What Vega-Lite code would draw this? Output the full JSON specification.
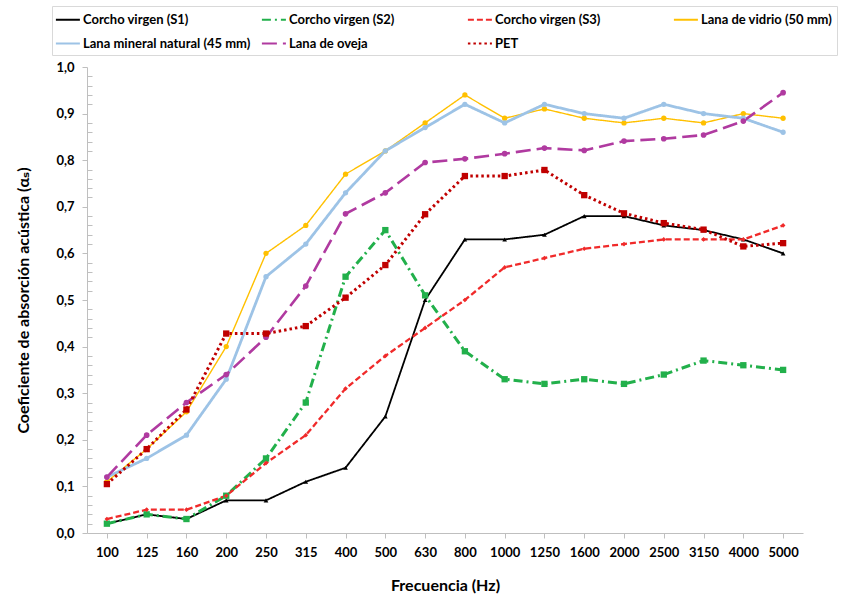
{
  "$schema": "https://vega.github.io/schema/vega-lite/v6.json",
  "width": 716,
  "height": 466,
  "autosize": {"type": "none"},
  "padding": {"left": 87, "top": 67, "right": 52, "bottom": 61},
  "background": "white",
  "config": {
    "view": {"stroke": null},
    "font": "Lato",
    "axis": {
      "labelFont": "Lato",
      "labelFontWeight": "bold",
      "labelFontSize": 13,
      "labelColor": "#000000",
      "titleFont": "Lato, DejaVu Sans",
      "titleFontWeight": "bold",
      "titleFontSize": 16,
      "titleColor": "#000000",
      "domainColor": "#bfbfbf",
      "tickColor": "#bfbfbf",
      "grid": false
    },
    "legend": {
      "labelFont": "Lato",
      "labelFontWeight": "bold",
      "labelFontSize": 13,
      "labelColor": "#000000",
      "labelLimit": 300
    }
  },
  "data": {
    "values": [
      {"f": "100", "s": "Corcho virgen (S1)", "v": 0.02},
      {"f": "125", "s": "Corcho virgen (S1)", "v": 0.04},
      {"f": "160", "s": "Corcho virgen (S1)", "v": 0.03},
      {"f": "200", "s": "Corcho virgen (S1)", "v": 0.07},
      {"f": "250", "s": "Corcho virgen (S1)", "v": 0.07},
      {"f": "315", "s": "Corcho virgen (S1)", "v": 0.11},
      {"f": "400", "s": "Corcho virgen (S1)", "v": 0.14},
      {"f": "500", "s": "Corcho virgen (S1)", "v": 0.25},
      {"f": "630", "s": "Corcho virgen (S1)", "v": 0.50},
      {"f": "800", "s": "Corcho virgen (S1)", "v": 0.63},
      {"f": "1000", "s": "Corcho virgen (S1)", "v": 0.63},
      {"f": "1250", "s": "Corcho virgen (S1)", "v": 0.64},
      {"f": "1600", "s": "Corcho virgen (S1)", "v": 0.68},
      {"f": "2000", "s": "Corcho virgen (S1)", "v": 0.68},
      {"f": "2500", "s": "Corcho virgen (S1)", "v": 0.66},
      {"f": "3150", "s": "Corcho virgen (S1)", "v": 0.65},
      {"f": "4000", "s": "Corcho virgen (S1)", "v": 0.63},
      {"f": "5000", "s": "Corcho virgen (S1)", "v": 0.60},

      {"f": "100", "s": "Corcho virgen (S2)", "v": 0.02},
      {"f": "125", "s": "Corcho virgen (S2)", "v": 0.04},
      {"f": "160", "s": "Corcho virgen (S2)", "v": 0.03},
      {"f": "200", "s": "Corcho virgen (S2)", "v": 0.08},
      {"f": "250", "s": "Corcho virgen (S2)", "v": 0.16},
      {"f": "315", "s": "Corcho virgen (S2)", "v": 0.28},
      {"f": "400", "s": "Corcho virgen (S2)", "v": 0.55},
      {"f": "500", "s": "Corcho virgen (S2)", "v": 0.65},
      {"f": "630", "s": "Corcho virgen (S2)", "v": 0.51},
      {"f": "800", "s": "Corcho virgen (S2)", "v": 0.39},
      {"f": "1000", "s": "Corcho virgen (S2)", "v": 0.33},
      {"f": "1250", "s": "Corcho virgen (S2)", "v": 0.32},
      {"f": "1600", "s": "Corcho virgen (S2)", "v": 0.33},
      {"f": "2000", "s": "Corcho virgen (S2)", "v": 0.32},
      {"f": "2500", "s": "Corcho virgen (S2)", "v": 0.34},
      {"f": "3150", "s": "Corcho virgen (S2)", "v": 0.37},
      {"f": "4000", "s": "Corcho virgen (S2)", "v": 0.36},
      {"f": "5000", "s": "Corcho virgen (S2)", "v": 0.35},

      {"f": "100", "s": "Corcho virgen (S3)", "v": 0.03},
      {"f": "125", "s": "Corcho virgen (S3)", "v": 0.05},
      {"f": "160", "s": "Corcho virgen (S3)", "v": 0.05},
      {"f": "200", "s": "Corcho virgen (S3)", "v": 0.08},
      {"f": "250", "s": "Corcho virgen (S3)", "v": 0.15},
      {"f": "315", "s": "Corcho virgen (S3)", "v": 0.21},
      {"f": "400", "s": "Corcho virgen (S3)", "v": 0.31},
      {"f": "500", "s": "Corcho virgen (S3)", "v": 0.38},
      {"f": "630", "s": "Corcho virgen (S3)", "v": 0.44},
      {"f": "800", "s": "Corcho virgen (S3)", "v": 0.50},
      {"f": "1000", "s": "Corcho virgen (S3)", "v": 0.57},
      {"f": "1250", "s": "Corcho virgen (S3)", "v": 0.59},
      {"f": "1600", "s": "Corcho virgen (S3)", "v": 0.61},
      {"f": "2000", "s": "Corcho virgen (S3)", "v": 0.62},
      {"f": "2500", "s": "Corcho virgen (S3)", "v": 0.63},
      {"f": "3150", "s": "Corcho virgen (S3)", "v": 0.63},
      {"f": "4000", "s": "Corcho virgen (S3)", "v": 0.63},
      {"f": "5000", "s": "Corcho virgen (S3)", "v": 0.66},

      {"f": "100", "s": "Lana de vidrio (50 mm)", "v": 0.11},
      {"f": "125", "s": "Lana de vidrio (50 mm)", "v": 0.18},
      {"f": "160", "s": "Lana de vidrio (50 mm)", "v": 0.26},
      {"f": "200", "s": "Lana de vidrio (50 mm)", "v": 0.40},
      {"f": "250", "s": "Lana de vidrio (50 mm)", "v": 0.60},
      {"f": "315", "s": "Lana de vidrio (50 mm)", "v": 0.66},
      {"f": "400", "s": "Lana de vidrio (50 mm)", "v": 0.77},
      {"f": "500", "s": "Lana de vidrio (50 mm)", "v": 0.82},
      {"f": "630", "s": "Lana de vidrio (50 mm)", "v": 0.88},
      {"f": "800", "s": "Lana de vidrio (50 mm)", "v": 0.94},
      {"f": "1000", "s": "Lana de vidrio (50 mm)", "v": 0.89},
      {"f": "1250", "s": "Lana de vidrio (50 mm)", "v": 0.91},
      {"f": "1600", "s": "Lana de vidrio (50 mm)", "v": 0.89},
      {"f": "2000", "s": "Lana de vidrio (50 mm)", "v": 0.88},
      {"f": "2500", "s": "Lana de vidrio (50 mm)", "v": 0.89},
      {"f": "3150", "s": "Lana de vidrio (50 mm)", "v": 0.88},
      {"f": "4000", "s": "Lana de vidrio (50 mm)", "v": 0.90},
      {"f": "5000", "s": "Lana de vidrio (50 mm)", "v": 0.89},

      {"f": "100", "s": "Lana mineral natural (45 mm)", "v": 0.12},
      {"f": "125", "s": "Lana mineral natural (45 mm)", "v": 0.16},
      {"f": "160", "s": "Lana mineral natural (45 mm)", "v": 0.21},
      {"f": "200", "s": "Lana mineral natural (45 mm)", "v": 0.33},
      {"f": "250", "s": "Lana mineral natural (45 mm)", "v": 0.55},
      {"f": "315", "s": "Lana mineral natural (45 mm)", "v": 0.62},
      {"f": "400", "s": "Lana mineral natural (45 mm)", "v": 0.73},
      {"f": "500", "s": "Lana mineral natural (45 mm)", "v": 0.82},
      {"f": "630", "s": "Lana mineral natural (45 mm)", "v": 0.87},
      {"f": "800", "s": "Lana mineral natural (45 mm)", "v": 0.92},
      {"f": "1000", "s": "Lana mineral natural (45 mm)", "v": 0.88},
      {"f": "1250", "s": "Lana mineral natural (45 mm)", "v": 0.92},
      {"f": "1600", "s": "Lana mineral natural (45 mm)", "v": 0.90},
      {"f": "2000", "s": "Lana mineral natural (45 mm)", "v": 0.89},
      {"f": "2500", "s": "Lana mineral natural (45 mm)", "v": 0.92},
      {"f": "3150", "s": "Lana mineral natural (45 mm)", "v": 0.90},
      {"f": "4000", "s": "Lana mineral natural (45 mm)", "v": 0.89},
      {"f": "5000", "s": "Lana mineral natural (45 mm)", "v": 0.86},

      {"f": "100", "s": "Lana de oveja", "v": 0.12},
      {"f": "125", "s": "Lana de oveja", "v": 0.21},
      {"f": "160", "s": "Lana de oveja", "v": 0.28},
      {"f": "200", "s": "Lana de oveja", "v": 0.34},
      {"f": "250", "s": "Lana de oveja", "v": 0.42},
      {"f": "315", "s": "Lana de oveja", "v": 0.53},
      {"f": "400", "s": "Lana de oveja", "v": 0.685},
      {"f": "500", "s": "Lana de oveja", "v": 0.73},
      {"f": "630", "s": "Lana de oveja", "v": 0.795},
      {"f": "800", "s": "Lana de oveja", "v": 0.803},
      {"f": "1000", "s": "Lana de oveja", "v": 0.814},
      {"f": "1250", "s": "Lana de oveja", "v": 0.826},
      {"f": "1600", "s": "Lana de oveja", "v": 0.821},
      {"f": "2000", "s": "Lana de oveja", "v": 0.841},
      {"f": "2500", "s": "Lana de oveja", "v": 0.846},
      {"f": "3150", "s": "Lana de oveja", "v": 0.854},
      {"f": "4000", "s": "Lana de oveja", "v": 0.884},
      {"f": "5000", "s": "Lana de oveja", "v": 0.945},

      {"f": "100", "s": "PET", "v": 0.105},
      {"f": "125", "s": "PET", "v": 0.18},
      {"f": "160", "s": "PET", "v": 0.265},
      {"f": "200", "s": "PET", "v": 0.428},
      {"f": "250", "s": "PET", "v": 0.428},
      {"f": "315", "s": "PET", "v": 0.444},
      {"f": "400", "s": "PET", "v": 0.505},
      {"f": "500", "s": "PET", "v": 0.575},
      {"f": "630", "s": "PET", "v": 0.684},
      {"f": "800", "s": "PET", "v": 0.766},
      {"f": "1000", "s": "PET", "v": 0.766},
      {"f": "1250", "s": "PET", "v": 0.779},
      {"f": "1600", "s": "PET", "v": 0.725},
      {"f": "2000", "s": "PET", "v": 0.686},
      {"f": "2500", "s": "PET", "v": 0.665},
      {"f": "3150", "s": "PET", "v": 0.651},
      {"f": "4000", "s": "PET", "v": 0.615},
      {"f": "5000", "s": "PET", "v": 0.622}
    ]
  },
  "encoding": {
    "x": {
      "field": "f",
      "type": "ordinal",
      "scale": {
        "type": "point",
        "padding": 0.5,
        "domain": ["100","125","160","200","250","315","400","500","630","800","1000","1250","1600","2000","2500","3150","4000","5000"]
      },
      "axis": {
        "title": "Frecuencia (Hz)",
        "labelAngle": 0,
        "tickSize": 5,
        "labelPadding": 8,
        "titlePadding": 18
      }
    },
    "y": {
      "field": "v",
      "type": "quantitative",
      "scale": {"domain": [0, 1], "nice": false},
      "axis": {
        "title": "Coeficiente de absorción acústica (αₛ)",
        "values": [0,0.02,0.04,0.06,0.08,0.1,0.12,0.14,0.16,0.18,0.2,0.22,0.24,0.26,0.28,0.3,0.32,0.34,0.36,0.38,0.4,0.42,0.44,0.46,0.48,0.5,0.52,0.54,0.56,0.58,0.6,0.62,0.64,0.66,0.68,0.7,0.72,0.74,0.76,0.78,0.8,0.82,0.84,0.86,0.88,0.9,0.92,0.94,0.96,0.98,1],
        "labelExpr": "abs(datum.value*10 - round(datum.value*10)) < 0.001 ? replace(format(datum.value, '.1f'), '.', ',') : ''",
        "tickSize": {"condition": {"test": "abs(datum.value*10 - round(datum.value*10)) < 0.001", "value": 5}, "value": -5},
        "labelPadding": 8,
        "titlePadding": 24
      }
    }
  },
  "resolve": {"scale": {"color": "independent"}, "legend": {"color": "independent"}},
  "layer": [
    {
      "mark": {"type": "line"},
      "encoding": {
        "color": {
          "field": "s",
          "type": "nominal",
          "scale": {
            "domain": ["Corcho virgen (S1)","Corcho virgen (S2)","Corcho virgen (S3)","Lana de vidrio (50 mm)","Lana mineral natural (45 mm)","Lana de oveja","PET"],
            "range": ["#000000","#22b04b","#f02a2a","#ffc000","#9dc3e6","#b03aa0","#c00000"]
          },
          "legend": {
            "title": null,
            "orient": "none",
            "legendX": -35,
            "legendY": -61,
            "direction": "horizontal",
            "columns": 4,
            "gridAlign": "all",
            "columnPadding": 6,
            "rowPadding": 7,
            "padding": 4,
            "symbolType": "M-1.2,0H1.8",
            "symbolSize": 256,
            "labelOffset": 8,
            "strokeColor": "#d9d9d9",
            "fillColor": "white",
            "encode": {
              "symbols": {
                "update": {
                  "strokeDash": {"scale": "strokeDash", "field": "value"},
                  "strokeWidth": {"value": 2.2}
                }
              }
            }
          }
        },
        "strokeDash": {
          "field": "s",
          "type": "nominal",
          "scale": {
            "domain": ["Corcho virgen (S1)","Corcho virgen (S2)","Corcho virgen (S3)","Lana de vidrio (50 mm)","Lana mineral natural (45 mm)","Lana de oveja","PET"],
            "range": [[1,0],[9,4,2,4],[6,3],[1,0],[1,0],[15,6],[2.5,3]]
          },
          "legend": null
        },
        "strokeWidth": {
          "field": "s",
          "type": "ordinal",
          "scale": {
            "type": "ordinal",
            "domain": ["Corcho virgen (S1)","Corcho virgen (S2)","Corcho virgen (S3)","Lana de vidrio (50 mm)","Lana mineral natural (45 mm)","Lana de oveja","PET"],
            "range": [1.8, 3, 2.3, 1.4, 2.8, 2.6, 3]
          },
          "legend": null
        }
      }
    },
    {
      "mark": {"type": "point", "filled": true, "opacity": 1},
      "encoding": {
        "color": {
          "field": "s",
          "type": "nominal",
          "scale": {
            "domain": ["Corcho virgen (S1)","Corcho virgen (S2)","Corcho virgen (S3)","Lana de vidrio (50 mm)","Lana mineral natural (45 mm)","Lana de oveja","PET"],
            "range": ["#000000","#22b04b","#f02a2a","#ffc000","#9dc3e6","#b03aa0","#c00000"]
          },
          "legend": null
        },
        "shape": {
          "field": "s",
          "type": "nominal",
          "scale": {
            "domain": ["Corcho virgen (S1)","Corcho virgen (S2)","Corcho virgen (S3)","Lana de vidrio (50 mm)","Lana mineral natural (45 mm)","Lana de oveja","PET"],
            "range": ["triangle-up","square","diamond","circle","circle","circle","square"]
          },
          "legend": null
        },
        "size": {
          "field": "s",
          "type": "ordinal",
          "scale": {
            "type": "ordinal",
            "domain": ["Corcho virgen (S1)","Corcho virgen (S2)","Corcho virgen (S3)","Lana de vidrio (50 mm)","Lana mineral natural (45 mm)","Lana de oveja","PET"],
            "range": [22, 40, 22, 28, 28, 32, 40]
          },
          "legend": null
        }
      }
    }
  ]
}
